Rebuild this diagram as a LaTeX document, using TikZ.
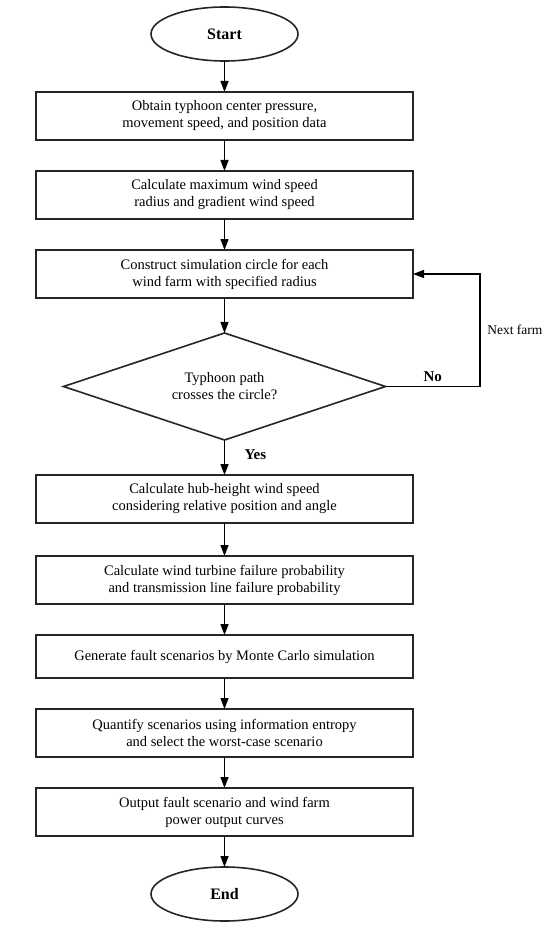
\documentclass[tikz,border=0pt]{standalone}
\usepackage{fontspec}
\setmainfont{Liberation Serif}
\usetikzlibrary{positioning,arrows.meta,shapes.geometric}

\begin{document}
\begin{tikzpicture}[
node distance=31pt,
every node/.style={outer sep=0pt},
nd/.style={draw=black!85,line width=1.6pt,minimum width=377pt,minimum height=48pt,align=center,inner sep=2pt,font=\fontsize{14.5}{17}\selectfont},
trm/.style={draw=black!85,line width=1.6pt,ellipse,minimum width=147pt,minimum height=54pt,font=\fontsize{16}{18}\selectfont\bfseries},
dec/.style={draw=black!85,line width=1.6pt,diamond,aspect=3,minimum width=322pt,minimum height=107pt,inner sep=0pt,align=center,font=\fontsize{14.5}{17}\selectfont},
arr/.style={line width=1.3pt,-{Triangle[length=11pt,width=8pt]}},
lbl/.style={font=\fontsize{15}{16}\selectfont\bfseries,inner sep=1pt}
]
\useasboundingbox (0,0) rectangle (550pt,-928pt);
\node[trm] (start) at (224.5pt,-34pt) {Start};
\node[nd,below=of start] (obtain) {Obtain typhoon center pressure,\\movement speed, and position data};
\node[nd,below=of obtain] (radius) {Calculate maximum wind speed\\radius and gradient wind speed};
\node[nd,below=of radius] (circle) {Construct simulation circle for each\\wind farm with specified radius};
\node[dec,below=35pt of circle] (cross) {Typhoon path\\crosses the circle?};
\node[nd,below=35pt of cross] (hub) {Calculate hub-height wind speed\\considering relative position and angle};
\node[nd,below=33pt of hub] (fail) {Calculate wind turbine failure probability\\and transmission line failure probability};
\node[nd,below=of fail,minimum height=43pt] (monte) {Generate fault scenarios by Monte Carlo simulation};
\node[nd,below=of monte] (entropy) {Quantify scenarios using information entropy\\and select the worst-case scenario};
\node[nd,below=of entropy] (output) {Output fault scenario and wind farm\\power output curves};
\node[trm,below=of output] (end) {End};
\coordinate (loopb) at (480pt,0 |- cross.east);
\coordinate (loopt) at (480pt,0 |- circle.east);

\draw[arr] (start)--(obtain);
\draw[arr] (obtain)--(radius);
\draw[arr] (radius)--(circle);
\draw[arr] (circle)--(cross);
\draw[arr] (cross)--(hub) node[lbl,pos=0.42,right=19pt]{Yes};
\draw[arr] (hub)--(fail);
\draw[arr] (fail)--(monte);
\draw[arr] (monte)--(entropy);
\draw[arr] (entropy)--(output);
\draw[arr] (output)--(end);
\draw[arr] (cross.east)--(loopb) node[lbl,pos=0.5,above=4pt]{No} -- (loopt) node[midway,right=4pt,font=\fontsize{13.5}{16}\selectfont]{Next farm} -- (circle.east);
\end{tikzpicture}
\end{document}
